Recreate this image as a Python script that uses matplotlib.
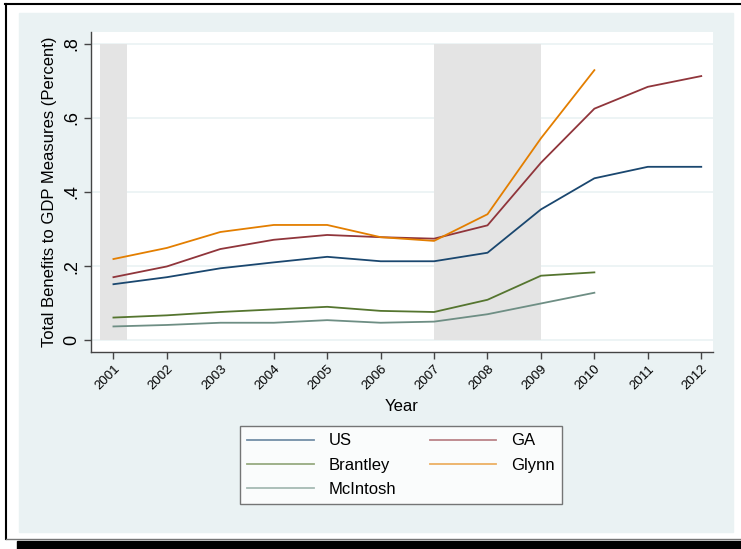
import matplotlib
matplotlib.use("Agg")
import matplotlib.pyplot as plt
from matplotlib.patches import Rectangle
from matplotlib.lines import Line2D

plt.rcParams['font.family'] = ['Liberation Sans', 'DejaVu Sans']

years = [2001, 2002, 2003, 2004, 2005, 2006, 2007, 2008, 2009, 2010, 2011, 2012]
us = [0.151, 0.170, 0.194, 0.210, 0.225, 0.213, 0.213, 0.236, 0.353, 0.437, 0.468, 0.468]
ga = [0.170, 0.199, 0.246, 0.271, 0.284, 0.278, 0.274, 0.310, 0.479, 0.625, 0.684, 0.713]
brantley = [0.061, 0.067, 0.076, 0.083, 0.090, 0.079, 0.076, 0.109, 0.174, 0.183]
glynn = [0.219, 0.249, 0.292, 0.311, 0.311, 0.278, 0.268, 0.340, 0.545, 0.729]
mcintosh = [0.037, 0.041, 0.047, 0.047, 0.054, 0.047, 0.050, 0.070, 0.099, 0.128]

# recession bands (start, end)
recessions = [(2000.75, 2001.25), (2007, 2009)]
yticks = [0, 0.2, 0.4, 0.6, 0.8]
ytick_labels = ["0", ".2", ".4", ".6", ".8"]

W, H = 741, 549
fig = plt.figure(figsize=(W / 100, H / 100), dpi=100)
fig.patch.set_facecolor("white")

def px(x0, y0, x1, y1):
    # pixel box -> figure fraction rect
    return (x0 / W, 1 - y1 / H, (x1 - x0) / W, (y1 - y0) / H)

# graph region background + frame bits
x, y, w, h = px(19, 13, 733, 532)
fig.add_artist(Rectangle((x, y), w, h, transform=fig.transFigure, color="#EAF2F3", zorder=0))
fig.add_artist(Line2D([5 / W, 1], [1 - 4 / H] * 2, transform=fig.transFigure, color="black", lw=1.5))
fig.add_artist(Line2D([6 / W] * 2, [1 - 4 / H, 1 - 539 / H], transform=fig.transFigure, color="black", lw=1.5))
fig.add_artist(Line2D([6 / W, 1], [1 - 539 / H] * 2, transform=fig.transFigure, color="#777777", lw=1))
x, y, w, h = px(17, 541, 741, 549)
fig.add_artist(Rectangle((x, y), w, h, transform=fig.transFigure, color="black", zorder=1))

ax = fig.add_axes(px(91, 32, 713, 352))
ax.set_facecolor("white")
ax.set_xlim(2000.58, 2012.22)
ax.set_ylim(-0.032, 0.832)

for s, e in recessions:
    ax.fill_between([s, e], 0, 0.8, color="#E4E4E4", lw=0, zorder=1)

for v in yticks:
    ax.axhline(v, color="#EAF2F3", lw=1.2, zorder=0.5)

ax.plot(years, us, color="#1A476F", lw=1.3, label="US", zorder=3)
ax.plot(years, ga, color="#90353B", lw=1.3, label="GA", zorder=3)
ax.plot(years[:len(brantley)], brantley, color="#55752F", lw=1.3, label="Brantley", zorder=3)
ax.plot(years[:len(glynn)], glynn, color="#E37E00", lw=1.3, label="Glynn", zorder=3)
ax.plot(years[:len(mcintosh)], mcintosh, color="#6E8E84", lw=1.3, label="McIntosh", zorder=3)

for side in ["top", "right"]:
    ax.spines[side].set_visible(False)
for side in ["left", "bottom"]:
    ax.spines[side].set_color("#444444")
    ax.spines[side].set_linewidth(1.0)

ax.set_yticks(yticks)
ax.set_yticklabels(ytick_labels, rotation=90, va="center", fontsize=13)
ax.set_xticks(years)
ax.set_xticklabels([str(yr) for yr in years], rotation=45, ha="right",
                   rotation_mode="anchor", fontsize=9.5)
ax.tick_params(axis="both", direction="out", length=5, width=1, color="#444444")
ax.tick_params(axis="x", pad=3)
ax.tick_params(axis="y", pad=3)

ax.set_ylabel("Total Benefits to GDP Measures (Percent)", fontsize=12, labelpad=4)
ax.set_xlabel("Year", fontsize=12, labelpad=5)

# legend order: US, GA / Brantley, Glynn / McIntosh
hs, ls = ax.get_legend_handles_labels()
order = [0, 2, 4, 1, 3]
leg = fig.legend([hs[i] for i in order], [ls[i] for i in order], ncol=2,
                 loc="center", bbox_to_anchor=(401 / W, 1 - 465 / H),
                 frameon=True, fancybox=False, edgecolor="#555555",
                 fontsize=12, handlelength=4.0, handletextpad=0.9,
                 columnspacing=2.0, labelspacing=0.55, borderpad=0.45)
leg.get_frame().set_linewidth(1.0)
for line in leg.get_lines():
    line.set_alpha(0.6)

fig.savefig("out.png", dpi=100)
